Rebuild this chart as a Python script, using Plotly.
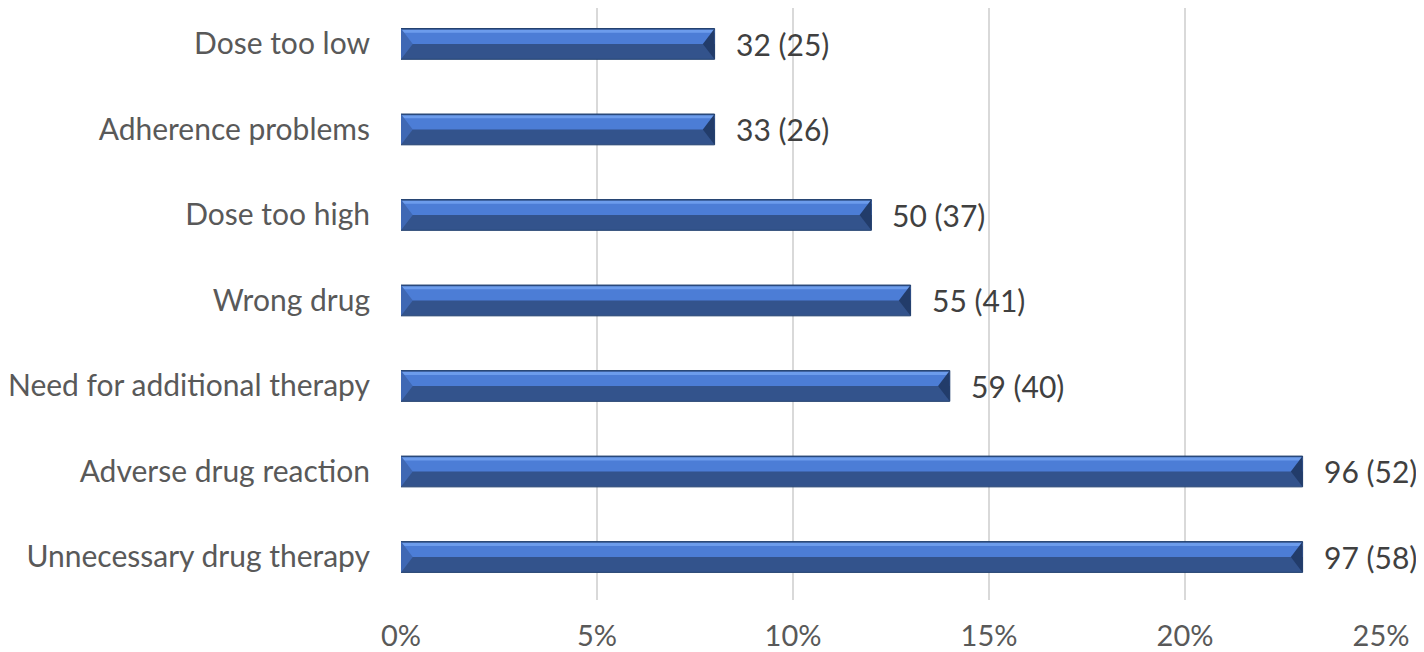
import plotly.graph_objects as go

# categories listed bottom to top (plotly draws the first category at the bottom)
categories = [
    "Unnecessary drug therapy",
    "Adverse drug reaction",
    "Need for additional therapy",
    "Wrong drug",
    "Dose too high",
    "Adherence problems",
    "Dose too low",
]
percent = [23, 23, 14, 13, 12, 8, 8]
counts = [97, 96, 59, 55, 50, 33, 32]
patients = [58, 52, 40, 41, 37, 26, 25]
tick_values = [0, 5, 10, 15, 20, 25]
tick_labels = ["0%", "5%", "10%", "15%", "20%", "25%"]

FONT = "Lato"
BAR_W = 0.36
BEVEL = 0.3  # bevel depth in axis units (~12px)

fig = go.Figure()

# lower (shaded) body of the bar
fig.add_trace(go.Bar(
    y=categories, x=percent, orientation="h",
    width=BAR_W,
    marker=dict(color="#33538c", line=dict(color="#22406f", width=1)),
    hoverinfo="skip", showlegend=False,
))
# upper lit face
fig.add_trace(go.Bar(
    y=categories, x=percent, orientation="h",
    width=BAR_W * 0.42, offset=0.0,
    marker=dict(color="#4c7dd6", line=dict(width=0)),
    hoverinfo="skip", showlegend=False,
))
# highlight near the top edge
fig.add_trace(go.Bar(
    y=categories, x=percent, orientation="h",
    width=BAR_W * 0.1, offset=BAR_W * 0.36,
    marker=dict(color="#6c9cec", line=dict(width=0)),
    hoverinfo="skip", showlegend=False,
))

# bevelled ends
for i, p in enumerate(percent):
    h = BAR_W / 2
    fig.add_shape(
        type="path", xref="x", yref="y", layer="above",
        path=f"M {p},{i + h} L {p},{i - h} L {p - BEVEL},{i} Z",
        fillcolor="#223c6a", line=dict(width=0),
    )
    fig.add_shape(
        type="path", xref="x", yref="y", layer="above",
        path=f"M 0,{i + h} L 0,{i - h} L {BEVEL},{i} Z",
        fillcolor="#3f68b4", line=dict(width=0),
    )

for cat, p, c, n in zip(categories, percent, counts, patients):
    fig.add_annotation(
        x=p, y=cat, text=f"{c} ({n})", showarrow=False,
        xanchor="left", xshift=19,
        font=dict(family=FONT, size=30, color="#404040"),
    )

# page body has an 8px margin, so the figure is sized to fit inside the window
fig.update_layout(
    width=1416, height=644,
    margin=dict(l=393, r=43, t=0, b=52),
    paper_bgcolor="white", plot_bgcolor="white",
    barmode="overlay",
    font=dict(family=FONT, color="#595959"),
)
fig.update_xaxes(
    range=[0, 25], tickvals=tick_values, ticktext=tick_labels,
    showgrid=True, gridcolor="#d9d9d9", gridwidth=2,
    zeroline=False, showline=False, automargin=False,
    tickfont=dict(family=FONT, size=29, color="#595959"),
    ticks="", ticklabelstandoff=16,
)
fig.update_yaxes(
    range=[-0.503, 6.42],
    showgrid=False, zeroline=False, showline=False, automargin=False,
    tickfont=dict(family=FONT, size=30, color="#595959"),
    ticks="", ticklabelstandoff=30,
)

fig.write_html("out.html")
